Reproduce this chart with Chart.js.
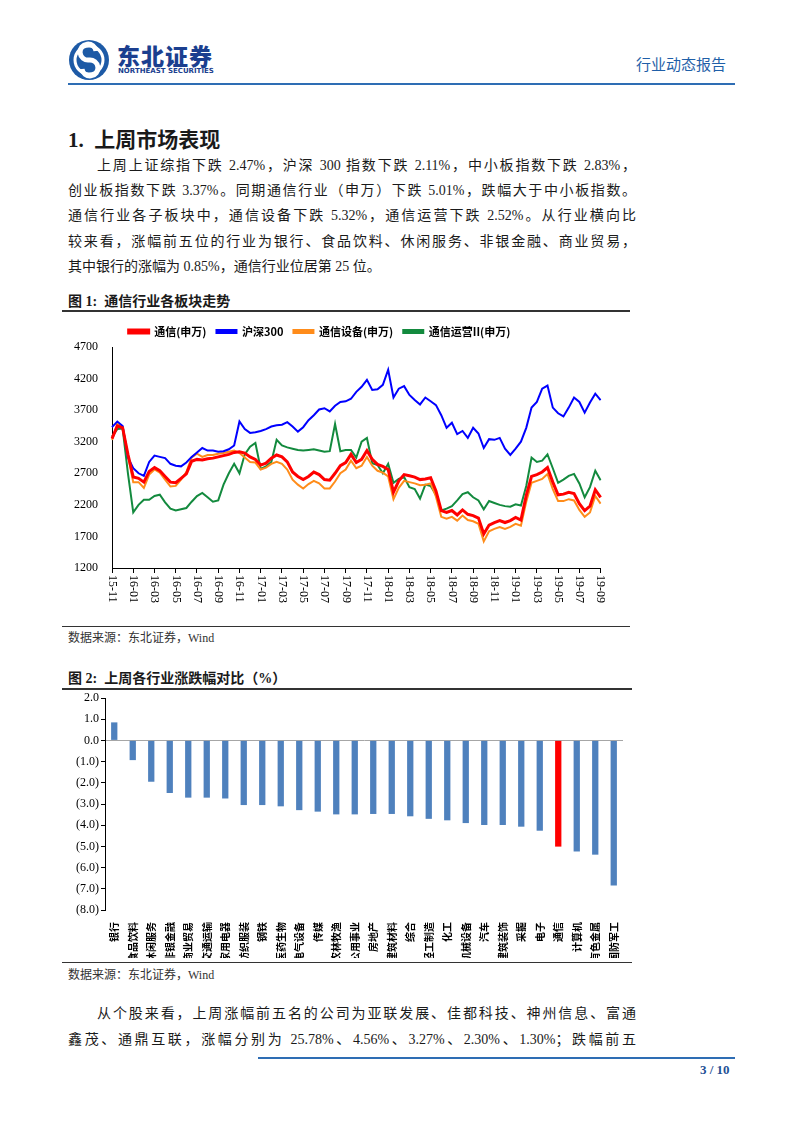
<!DOCTYPE html>
<html lang="zh-CN">
<head>
<meta charset="UTF-8">
<title>通信行业动态报告</title>
<script src="https://cdn.jsdelivr.net/npm/chart.js"></script>
<style>
    body { margin: 0; background: #fff; }
    #page { position: relative; width: 802px; height: 1133px; overflow: hidden;
            font-family: "Liberation Serif", "Noto Sans CJK SC", serif; color: #1a1a1a; }
    .abs { position: absolute; white-space: nowrap; }
    .line { position: absolute; left: 68px; width: 568px; font-size: 14px; line-height: 20px;
            white-space: nowrap; text-align: justify; text-align-last: justify; }
    .rule { position: absolute; background: #333; height: 1.5px; }
    .figtitle { font-size: 14px; font-weight: bold; }
    .src { font-size: 12px; color: #333; }
</style>
</head>
<body>
<div id="page">
    <!-- header -->
    <svg class="abs" style="left:68px;top:39px" width="42" height="42" viewBox="0 0 42 42">
        <circle cx="21" cy="21" r="20" fill="#1d5aa6"/>
        <circle cx="21" cy="21" r="14" fill="none" stroke="#fff" stroke-width="3"/>
        <path d="M28 12 A8 8 0 1 0 21 21 A8 8 0 1 1 14 30" stroke="#fff" stroke-width="5" fill="none"/>
    </svg>
    <div class="abs" style="left:117px;top:38px;font:900 23px 'Noto Sans CJK SC';color:#1b3f8f;letter-spacing:1px">东北证券</div>
    <div class="abs" style="left:118px;top:67px;font:bold 7px 'DejaVu Sans';color:#1b3f8f">NORTHEAST SECURITIES</div>
    <div class="abs" style="left:636px;top:53px;font:15px 'Noto Sans CJK SC';color:#1f5fa8">行业动态报告</div>
    <div class="abs" style="left:68px;top:83px;width:667px;height:2px;background:#2e6db4"></div>

    <!-- section text -->
    <div class="abs" style="left:68px;top:123px;font-size:21px;font-weight:bold">1.&nbsp; 上周市场表现</div>
    <div class="line" style="top:156px;left:97px;width:539px">上周上证综指下跌 2.47%，沪深 300 指数下跌 2.11%，中小板指数下跌 2.83%，</div>
    <div class="line" style="top:181px">创业板指数下跌 3.37%。同期通信行业（申万）下跌 5.01%，跌幅大于中小板指数。</div>
    <div class="line" style="top:206px">通信行业各子板块中，通信设备下跌 5.32%，通信运营下跌 2.52%。从行业横向比</div>
    <div class="line" style="top:232px">较来看，涨幅前五位的行业为银行、食品饮料、休闲服务、非银金融、商业贸易，</div>
    <div class="line" style="top:257px;text-align-last:left">其中银行的涨幅为 0.85%，通信行业位居第 25 位。</div>

    <!-- figure 1 -->
    <div class="abs figtitle" style="left:68px;top:290px">图 1:&nbsp; 通信行业各板块走势</div>
    <div class="rule" style="left:62px;top:310px;width:568px"></div>
    <canvas id="trendChart" class="abs" style="left:21px;top:316px" width="597" height="292"></canvas>
    <div class="rule" style="left:62px;top:626px;width:568px;height:1px"></div>
    <div class="abs src" style="left:68px;top:628px">数据来源：东北证券，Wind</div>

    <!-- figure 2 -->
    <div class="abs figtitle" style="left:68px;top:667px">图 2:&nbsp; 上周各行业涨跌幅对比（%）</div>
    <div class="rule" style="left:62px;top:688px;width:570px"></div>
    <canvas id="industryChart" class="abs" style="left:60px;top:688px" width="575" height="270"></canvas>
    <div class="rule" style="left:62px;top:962px;width:570px;height:1px"></div>
    <div class="abs src" style="left:68px;top:965px">数据来源：东北证券，Wind</div>

    <div class="line" style="top:1004px;left:97px;width:539px">从个股来看，上周涨幅前五名的公司为亚联发展、佳都科技、神州信息、富通</div>
    <div class="line" style="top:1030px">鑫茂、通鼎互联，涨幅分别为 25.78%、4.56%、3.27%、2.30%、1.30%；跌幅前五</div>

    <!-- footer -->
    <div class="abs" style="left:258px;top:1057px;width:477px;height:2px;background:#2e6db4"></div>
    <div class="abs" style="left:700px;top:1062px;font:bold 13px 'Liberation Serif';color:#1f4f95">3 / 10</div>
</div>

<script>
    // ---- figure 1 data: half-monthly closes ----
    const dates = [
        '15-11-01','15-11-16','15-12-01','15-12-16',
        '16-01-01','16-01-16','16-02-01','16-02-16','16-03-01','16-03-16','16-04-01','16-04-16',
        '16-05-01','16-05-16','16-06-01','16-06-16','16-07-01','16-07-16','16-08-01','16-08-16',
        '16-09-01','16-09-16','16-10-01','16-10-16','16-11-01','16-11-16','16-12-01','16-12-16',
        '17-01-01','17-01-16','17-02-01','17-02-16','17-03-01','17-03-16','17-04-01','17-04-16',
        '17-05-01','17-05-16','17-06-01','17-06-16','17-07-01','17-07-16','17-08-01','17-08-16',
        '17-09-01','17-09-16','17-10-01','17-10-16','17-11-01','17-11-16','17-12-01','17-12-16',
        '18-01-01','18-01-16','18-02-01','18-02-16','18-03-01','18-03-16','18-04-01','18-04-16',
        '18-05-01','18-05-16','18-06-01','18-06-16','18-07-01','18-07-16','18-08-01','18-08-16',
        '18-09-01','18-09-16','18-10-01','18-10-16','18-11-01','18-11-16','18-12-01','18-12-16',
        '19-01-01','19-01-16','19-02-01','19-02-16','19-03-01','19-03-16','19-04-01','19-04-16',
        '19-05-01','19-05-16','19-06-01','19-06-16','19-07-01','19-07-16','19-08-01','19-08-16',
        '19-09-01'
    ];
    const tongxin = [
        3250, 3450, 3420, 3000,
        2640, 2620, 2560, 2730, 2790, 2740, 2650, 2560, 2550, 2620, 2690, 2890,
        2920, 2910, 2930, 2940, 2960, 2980, 3000, 3030, 3040, 3020, 2960, 2920,
        2830, 2860, 2940, 2990, 2960, 2880, 2720, 2650, 2600, 2650, 2720, 2680,
        2600, 2590, 2700, 2820, 2870, 3000, 2870, 2920, 3060, 2920, 2840, 2810,
        2760, 2400, 2580, 2680, 2660, 2640, 2600, 2610, 2630, 2420, 2110, 2080,
        2110, 2040, 2120, 2050, 2030, 1990, 1740, 1880, 1920, 1950, 1920, 1950,
        2000, 1960, 2350, 2650, 2680, 2720, 2790, 2560, 2360, 2370, 2400, 2380,
        2220, 2110, 2180, 2440, 2320
    ];
    const hs300 = [
        3430, 3520, 3450, 2950,
        2780, 2700, 2660, 2880, 2980, 2960, 2940, 2850, 2820, 2810, 2870, 2960,
        3030, 3100, 3060, 3060, 3040, 3050, 3080, 3140, 3520, 3400, 3340, 3350,
        3370, 3400, 3440, 3460, 3470, 3510, 3440, 3360, 3430, 3540, 3620, 3710,
        3730, 3680, 3770, 3830, 3840, 3880, 3990, 4070, 4180, 4020, 4030, 4100,
        4340, 3900, 4040, 4080, 3940, 3860, 3790, 3900, 3840, 3780, 3620, 3420,
        3500, 3320, 3370, 3260, 3420, 3330, 3100, 3240, 3230, 3260, 3090, 2990,
        3090, 3200, 3420, 3740, 3830, 4040, 4090, 3740, 3650, 3600, 3740, 3900,
        3830, 3660, 3820, 3960, 3860
    ];
    const shebei = [
        3230, 3480, 3440, 2980,
        2560, 2560, 2470, 2680, 2760, 2710, 2600, 2490, 2500, 2600, 2720, 2950,
        3010, 2960, 2990, 2990, 3010, 3020, 3040, 3060, 3020, 2950, 2880, 2870,
        2760, 2790, 2850, 2880, 2850, 2760, 2600, 2520, 2460, 2530, 2580, 2540,
        2460, 2460, 2570, 2700, 2760, 2900, 2780, 2820, 2960, 2820, 2740, 2710,
        2650, 2290, 2470, 2580, 2560, 2540, 2510, 2520, 2540, 2330, 2010, 1980,
        2010, 1950, 2030, 1960, 1940, 1900, 1620, 1780, 1820, 1850, 1820, 1850,
        1900, 1870, 2250, 2550, 2580, 2610, 2690, 2450, 2260, 2260, 2290, 2270,
        2120, 2010, 2080, 2340, 2220
    ];
    const yunying = [
        3280, 3400, 3410, 2700,
        2080, 2200, 2280, 2280, 2340, 2360, 2240, 2140, 2110, 2130, 2150, 2250,
        2340, 2390, 2320, 2250, 2270, 2520, 2700, 2850, 2700, 3000, 3120, 3180,
        2770, 2810, 2880, 3230, 3140, 3110, 3090, 3070, 3060, 3070, 3080, 3060,
        3040, 3050, 3480, 3050, 3070, 3070, 2950, 3200, 3260, 2860, 2830, 2700,
        2850, 2550, 2610, 2640, 2480, 2450, 2300, 2520, 2500, 2360, 2110, 2140,
        2180, 2270, 2370, 2400, 2320, 2270, 2130, 2260, 2230, 2200, 2180, 2170,
        2210, 2190, 2500, 2950, 2880, 2900, 3000, 2780, 2550, 2600, 2660, 2690,
        2540, 2320, 2480, 2740, 2590
    ];
    const seriesNames = ['通信(申万)', '沪深300', '通信设备(申万)', '通信运营II(申万)'];
    const seriesColors = ['#ff0000', '#0000ff', '#ff8c1a', '#138a3e'];

    // ---- figure 2 data ----
    const industries = ['银行', '食品饮料', '休闲服务', '非银金融', '商业贸易', '交通运输', '家用电器',
        '纺织服装', '钢铁', '医药生物', '电气设备', '传媒', '农林牧渔', '公用事业', '房地产',
        '建筑材料', '综合', '轻工制造', '化工', '机械设备', '汽车', '建筑装饰', '采掘', '电子',
        '通信', '计算机', '有色金属', '国防军工'];
    const weeklyChange = [0.85, -0.93, -1.95, -2.48, -2.70, -2.70, -2.74, -3.05, -3.05, -3.11,
        -3.29, -3.36, -3.49, -3.49, -3.47, -3.47, -3.58, -3.70, -3.77, -3.90, -3.99, -3.99,
        -4.07, -4.26, -5.01, -5.24, -5.39, -6.84];

    const serif = "'Liberation Serif', 'Times New Roman', serif";

    // x labels on the trend chart read top-to-bottom, so draw them ourselves
    const verticalLabels = {
        id: 'verticalLabels',
        afterDraw(chart) {
            const xs = chart.scales.x;
            const c = chart.ctx;
            c.save();
            c.font = '12px ' + serif;
            c.fillStyle = '#000';
            c.textAlign = 'left';
            c.textBaseline = 'middle';
            dates.forEach((d, i) => {
                if (i % 4 !== 0) return;
                const x = xs.getPixelForValue(i);
                c.save();
                c.translate(x, xs.top + 7);
                c.rotate(Math.PI / 2);
                c.fillText(d.slice(0, 5), 0, 0);
                c.restore();
            });
            c.restore();
        }
    };

    new Chart(document.getElementById('trendChart'), {
        type: 'line',
        data: {
            labels: dates,
            datasets: [tongxin, hs300, shebei, yunying].map((s, i) => ({
                label: seriesNames[i],
                data: s,
                borderColor: seriesColors[i],
                backgroundColor: seriesColors[i],
                borderWidth: i === 0 ? 3 : 2,
                pointRadius: 0,
                tension: 0
            }))
        },
        options: {
            responsive: false,
            animation: false,
            layout: { padding: { left: 0, right: 0, top: 0 } },
            plugins: {
                tooltip: { enabled: false },
                legend: {
                    labels: {
                        boxWidth: 20, boxHeight: 3, padding: 10,
                        font: { family: 'Noto Sans CJK SC', size: 11, weight: 'bold' },
                        color: '#000'
                    }
                }
            },
            scales: {
                x: {
                    afterFit(scale) { scale.height = 40; },
                    border: { color: '#000', width: 1 },
                    grid: { drawOnChartArea: false, tickLength: 5, tickColor: '#000' },
                    ticks: {
                        autoSkip: false, minRotation: 90, maxRotation: 90,
                        color: 'rgba(0,0,0,0)',
                        font: { family: serif, size: 12 },
                        callback(v, i) { return i % 4 === 0 ? dates[i].slice(0, 5) : null; }
                    }
                },
                y: {
                    min: 1200, max: 4700,
                    afterFit(scale) { scale.width = 91; },
                    border: { color: '#000', width: 1 },
                    grid: { display: false },
                    ticks: {
                        stepSize: 500, color: '#000', padding: 6,
                        font: { family: serif, size: 12 },
                        callback: v => String(v)
                    }
                }
            }
        },
        plugins: [verticalLabels]
    });

    new Chart(document.getElementById('industryChart'), {
        type: 'bar',
        data: {
            labels: industries,
            datasets: [{
                data: weeklyChange,
                backgroundColor: industries.map(n => n === '通信' ? '#ff0000' : '#4f81bd'),
                categoryPercentage: 1,
                barPercentage: 0.34
            }]
        },
        options: {
            responsive: false,
            animation: false,
            layout: { padding: { left: 0, right: 12, top: 10 } },
            plugins: { legend: { display: false }, tooltip: { enabled: false } },
            scales: {
                x: {
                    afterFit(scale) { scale.height = 48; },
                    border: { display: false },
                    grid: { display: false },
                    ticks: {
                        autoSkip: false, minRotation: 90, maxRotation: 90, padding: 4,
                        color: '#000',
                        font: { family: 'Noto Sans CJK SC', size: 10, weight: 'bold' }
                    }
                },
                y: {
                    min: -8, max: 2,
                    afterFit(scale) { scale.width = 45; },
                    border: { color: '#000', width: 1 },
                    grid: {
                        color: ctx => ctx.tick && ctx.tick.value === 0 ? '#a6a6a6' : 'rgba(0,0,0,0)',
                        tickColor: '#000', tickLength: 4
                    },
                    ticks: {
                        stepSize: 1, color: '#000', padding: 2,
                        font: { family: serif, size: 12 },
                        callback: v => v < 0 ? '(' + Math.abs(v).toFixed(1) + ')' : v.toFixed(1)
                    }
                }
            }
        }
    });
</script>
</body>
</html>
